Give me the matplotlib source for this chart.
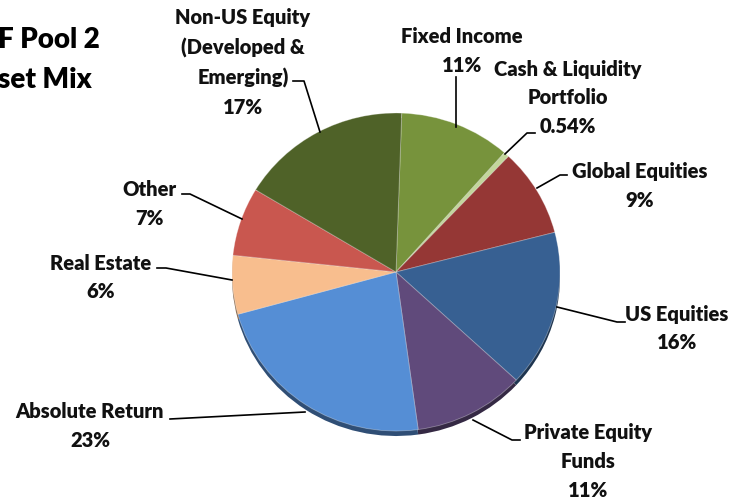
import matplotlib.pyplot as plt
import matplotlib.colors as mcolors

# asset mix, clockwise from the top
labels = ['Fixed Income', 'Cash & Liquidity\nPortfolio', 'Global Equities', 'US Equities',
          'Private Equity\nFunds', 'Absolute Return', 'Real Estate', 'Other',
          'Non-US Equity\n(Developed &\nEmerging)']
shares = [11, 0.54, 9, 16, 11, 23, 6, 7, 17]
share_text = ['11%', '0.54%', '9%', '16%', '11%', '23%', '6%', '7%', '17%']
colors = ['#77933C', '#C3D69B', '#953735', '#376092', '#604A7B',
          '#558ED5', '#F8BE8E', '#C9574F', '#4F6228']

W, H = 738, 498
K = 164 / 159  # slight vertical squash of the pie


def Y(y):
    return (H - y) * K


plt.rcParams['font.family'] = ['Lato', 'DejaVu Sans']
fig = plt.figure(figsize=(W / 100, H / 100), dpi=100)
ax = fig.add_axes([0, 0, 1, 1])

cx, cy, r = 396, 272, 164

# darker copy underneath for the 3d edge
shade = [tuple(c * 0.55 for c in mcolors.to_rgb(col)) for col in colors]
ax.pie(shares, colors=shade, startangle=88, counterclock=False, radius=r,
       center=(cx, Y(cy + 5)), frame=True, wedgeprops=dict(linewidth=0))
ax.pie(shares, colors=colors, startangle=88, counterclock=False, radius=r,
       center=(cx, Y(cy)), frame=True,
       wedgeprops=dict(linewidth=0.6, edgecolor=(1, 1, 1, 0.35)))
ax.set_xlim(0, W)
ax.set_ylim(0, H * K)
ax.set_aspect('auto')
ax.axis('off')

# label block centres (pixels) and leader lines
label_pos = [(462, 51), (568, 98), (640, 186), (677, 328.5), (588, 461.5),
             (90, 426), (101, 277.5), (149, 204), (243, 62.5)]
leaders = [
    [(456, 77), (456, 127)],
    [(535, 133), (527, 133), (505, 154)],
    [(567, 175), (560, 175), (537, 188)],
    [(625, 322), (617, 322), (557, 307)],
    [(520, 440), (512, 440), (473, 420)],
    [(170, 419), (305, 412)],
    [(157, 268), (166, 268), (232, 280)],
    [(182, 194), (190, 194), (242, 219)],
    [(293, 81), (304, 81), (320, 132)],
]

for lab, pct, (x, y), line in zip(labels, share_text, label_pos, leaders):
    ax.text(x, Y(y), lab + '\n' + pct, ha='center', va='center',
            fontsize=14.5, fontweight='heavy', linespacing=1.62, color='#111111')
    ax.plot([p[0] for p in line], [Y(p[1]) for p in line], color='black', lw=1.2)

# title, cut off at the left edge in the source
ax.text(-2, Y(48), 'F Pool 2', ha='left', va='baseline', fontsize=20, fontweight='heavy')
ax.text(-2, Y(88), 'set Mix', ha='left', va='baseline', fontsize=20, fontweight='heavy')

fig.savefig('out.png', dpi=100)
